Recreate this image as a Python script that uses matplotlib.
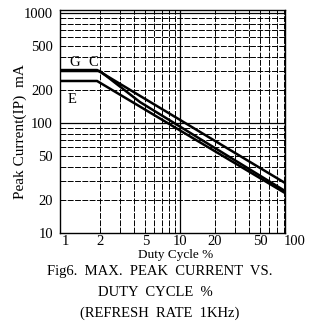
import numpy as np
import matplotlib
matplotlib.use("Agg")
import matplotlib.pyplot as plt
from matplotlib.ticker import FixedLocator, NullFormatter

plt.rcParams['font.family'] = ['Liberation Serif', 'DejaVu Serif']

# curves (duty %, peak current mA)
duty_g = [0.905, 1.90, 81.9]
current_g = [303, 303, 28.5]
duty_c = [0.905, 2.01, 4.49, 81.9]
current_c = [297, 297, 155, 24.1]
duty_e = [0.905, 1.90, 81.9]
current_e = [241, 241, 23.1]

x_ticks = [1, 2, 5, 10, 20, 50]
y_ticks = [10, 20, 50, 100, 200, 500, 1000]
x_minor = [2, 3, 4, 5, 6, 7, 8, 9, 20, 30, 40, 50, 60, 70, 80]
y_minor = [20, 30, 40, 50, 60, 70, 80, 90, 200, 300, 400, 500, 600, 700, 800, 900]

fig = plt.figure(figsize=(3.13, 3.31), dpi=100)
ax = fig.add_axes([60/313, 1-233/331, 225/313, 223/331])
ax.set_xscale('log')
ax.set_yscale('log')
ax.set_xlim(0.905, 81.9)
ax.set_ylim(10, 1065)

# grid, rough like the scan
for v in x_minor:
    ax.axvline(v, color='black', lw=0.7, ls=(0, (6, 1.5)), zorder=1)
ax.axvline(10, color='black', lw=0.9, zorder=1)
for v in y_minor:
    ax.axhline(v, color='black', lw=0.7, ls=(0, (6, 1.5)), zorder=1)
ax.axhline(100, color='black', lw=0.9, zorder=1)
ax.axhline(1000, color='black', lw=0.9, zorder=1)

for xs, ys in [(duty_g, current_g), (duty_c, current_c), (duty_e, current_e)]:
    ax.plot(xs, ys, color='black', lw=1.8, solid_joinstyle='miter', zorder=3)

ax.text(1.22, 355, 'G', fontsize=10.5, ha='center', va='center')
ax.text(1.75, 355, 'C', fontsize=10.5, ha='center', va='center')
ax.text(1.15, 165, 'E', fontsize=10.5, ha='center', va='center')

ax.xaxis.set_major_locator(FixedLocator(x_ticks))
ax.yaxis.set_major_locator(FixedLocator(y_ticks))
ax.xaxis.set_minor_formatter(NullFormatter())
ax.yaxis.set_minor_formatter(NullFormatter())
ax.set_xticklabels([str(t) for t in x_ticks])
ax.set_yticklabels([str(t) for t in y_ticks])
ax.tick_params(which='both', length=0, labelsize=10.5)
ax.tick_params(axis='x', pad=1.5)
ax.tick_params(axis='y', pad=5)
ax.text(100, -0.007, '100', transform=ax.get_xaxis_transform(),
        fontsize=10.5, ha='center', va='top')

for s in ax.spines.values():
    s.set_linewidth(1.0)

fig.text(20/313, 1-132/331, 'Peak Current(IP)  mA', rotation=90,
         ha='center', va='center', fontsize=11)
fig.text(176/313, 1-255/331, 'Duty Cycle %', ha='center', va='center', fontsize=9.5)
fig.text(160/313, 1-272/331, 'Fig6.  MAX.  PEAK  CURRENT  VS.', ha='center', va='center', fontsize=10.5)
fig.text(155/313, 1-292/331, 'DUTY  CYCLE  %', ha='center', va='center', fontsize=10.5)
fig.text(160/313, 1-313/331, '(REFRESH  RATE  1KHz)', ha='center', va='center', fontsize=10.5)

fig.savefig('out.png', dpi=100, facecolor='white')
